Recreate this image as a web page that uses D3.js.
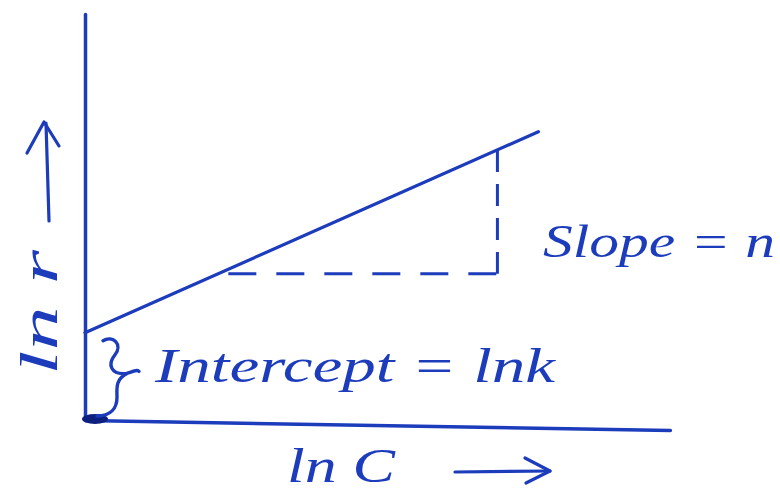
<!DOCTYPE html>
<html>
<head>
<meta charset="utf-8">
<script src="https://cdn.jsdelivr.net/npm/d3@7"></script>
<style>
  body { margin: 0; background: #ffffff; }
  text { font-family: "Liberation Serif", "DejaVu Serif", serif; font-style: italic; }
</style>
</head>
<body>
<svg id="chart" width="780" height="492"></svg>
<script>
// Freundlich isotherm, linear form: ln r = ln k + n ln C
const lnC = [0, 7.75];          // ends of the plotted line
const lnR = [2.15, 7.1];        // ln r at those ends (first one is the intercept, ln k)
const slopeRun = [2.45, 7.05];  // ln C span of the slope triangle
const slopeBase = 3.6;          // ln r level of the triangle's dashed base
const labels = {
  x: "ln C",
  y: "ln r",
  slope: "Slope = n",
  intercept: "Intercept = lnk"
};

const ink = "#1c3cbc";
const svg = d3.select("#chart");

const x = d3.scaleLinear().domain([0, 10]).range([85, 670]);
const y = d3.scaleLinear().domain([0, 10]).range([420, 14]);
const lineAt = v => lnR[0] + (lnR[1] - lnR[0]) / (lnC[1] - lnC[0]) * (v - lnC[0]);

// axes: bare domain lines, no ticks
const xAxis = svg.append("g")
  .attr("transform", `translate(0,${y(0)}) rotate(0.98, ${x(0)}, 0)`)
  .call(d3.axisBottom(x).ticks(0).tickSizeOuter(0));
const yAxis = svg.append("g")
  .attr("transform", `translate(${x(0)},0)`)
  .call(d3.axisLeft(y).ticks(0).tickSizeOuter(0));
[xAxis, yAxis].forEach(g => g.select(".domain")
  .attr("stroke", ink).attr("stroke-width", 3.5).attr("stroke-linecap", "round"));

// origin blob
svg.append("ellipse").attr("cx", x(0) + 10).attr("cy", y(0) - 1)
  .attr("rx", 13).attr("ry", 5).attr("fill", "#0d2080");

// the straight line
svg.append("path")
  .datum(lnC.map((c, i) => [c, lnR[i]]))
  .attr("d", d3.line().x(d => x(d[0])).y(d => y(d[1])))
  .attr("fill", "none").attr("stroke", ink).attr("stroke-width", 3.2)
  .attr("stroke-linecap", "round");

// slope triangle (dashed)
svg.append("path")
  .attr("d", d3.line()([[x(slopeRun[0]), y(slopeBase)], [x(slopeRun[1]), y(slopeBase)]]))
  .attr("stroke", ink).attr("stroke-width", 3).attr("stroke-dasharray", "28,20")
  .attr("fill", "none");
svg.append("path")
  .attr("d", d3.line()([[x(slopeRun[1]), y(lineAt(slopeRun[1]))], [x(slopeRun[1]), y(slopeBase)]]))
  .attr("stroke", ink).attr("stroke-width", 3).attr("stroke-dasharray", "22,12")
  .attr("fill", "none");

// brace spanning the intercept
const bTop = y(lnR[0]) + 6, bBot = y(0) - 4, bMid = (bTop + bBot) / 2 - 2;
const bx = x(0) + 18;
const brace = d3.path();
brace.moveTo(bx, bTop + 2);
brace.bezierCurveTo(bx + 10, bTop - 4, bx + 20, bTop + 6, bx + 12, bTop + 16);
brace.bezierCurveTo(bx + 4, bTop + 26, bx + 8, bMid, bx + 24, bMid - 2);
brace.bezierCurveTo(bx + 30, bMid - 4, bx + 34, bMid - 6, bx + 36, bMid - 4);
brace.moveTo(bx + 24, bMid - 2);
brace.bezierCurveTo(bx + 12, bMid + 4, bx + 14, bMid + 14, bx + 14, bMid + 22);
brace.bezierCurveTo(bx + 14, bBot - 8, bx + 8, bBot, bx - 6, bBot);
svg.append("path").attr("d", brace.toString())
  .attr("fill", "none").attr("stroke", ink).attr("stroke-width", 3.4)
  .attr("stroke-linecap", "round").attr("stroke-linejoin", "round");

// text labels
const txt = (s, tx, ty, size, len) => svg.append("text")
  .attr("x", tx).attr("y", ty).attr("fill", ink)
  .attr("font-size", size).attr("textLength", len).attr("lengthAdjust", "spacingAndGlyphs")
  .text(s);

txt(labels.intercept, 155, 382, 48, 400);
txt(labels.slope, 543, 257, 46, 232);
txt(labels.x, 287, 482, 48, 108);

svg.append("text")
  .attr("transform", `translate(57,375) rotate(-90)`)
  .attr("fill", ink).attr("font-size", 52)
  .attr("textLength", 125).attr("lengthAdjust", "spacingAndGlyphs")
  .text(labels.y);

// direction arrows next to the axis titles
const arrow = (pts, head) => {
  svg.append("path").attr("d", d3.line()(pts))
    .attr("fill", "none").attr("stroke", ink).attr("stroke-width", 3.2)
    .attr("stroke-linecap", "round");
  svg.append("path").attr("d", d3.line()(head))
    .attr("fill", "none").attr("stroke", ink).attr("stroke-width", 3.2)
    .attr("stroke-linecap", "round").attr("stroke-linejoin", "round");
};
arrow([[455, 472], [550, 471]], [[525, 458], [550, 471], [526, 483]]);
arrow([[49, 221], [46, 123]], [[27, 153], [44, 122], [59, 146]]);
</script>
</body>
</html>
